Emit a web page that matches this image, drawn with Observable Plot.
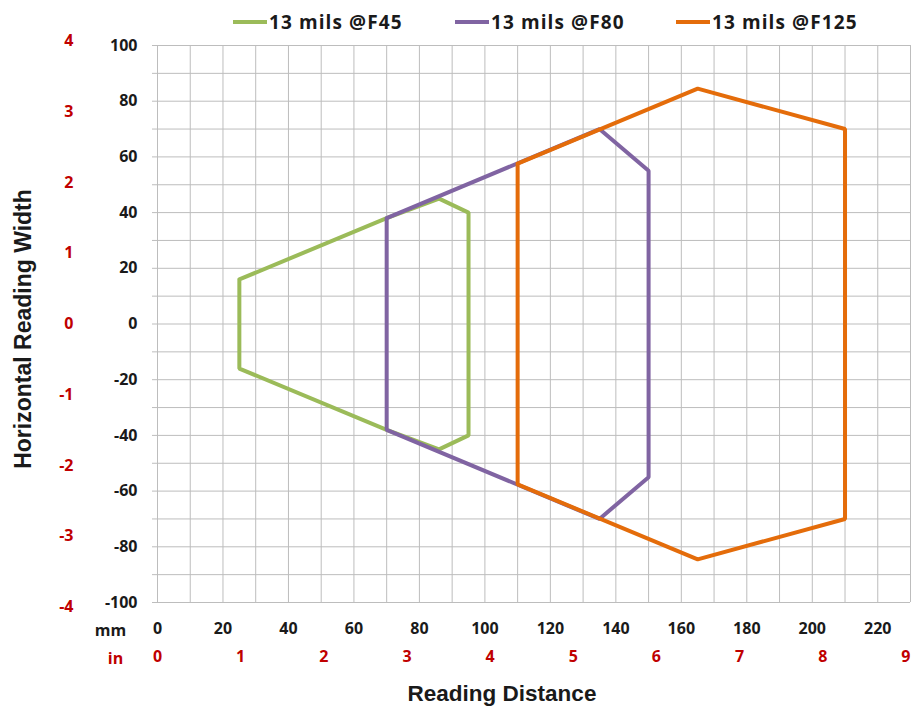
<!DOCTYPE html>
<html>
<head>
<meta charset="utf-8">
<script src="https://cdn.jsdelivr.net/npm/d3@7"></script>
<script src="https://cdn.jsdelivr.net/npm/@observablehq/plot@0.6"></script>
<style>
  body { margin: 0; background: #fff; font-family: "Open Sans", sans-serif; }
  #wrap { position: relative; width: 912px; height: 714px; }
  .leg { position: absolute; top: 9px; height: 26px; display: flex; align-items: center;
         font-weight: bold; font-size: 19px; color: #1a1a1a; white-space: nowrap; letter-spacing: 1.1px; }
  .leg span.sw { display: inline-block; width: 34px; height: 4px; margin-right: 2px; }
</style>
</head>
<body>
<div id="wrap"></div>
<script>
// Series names and colours
const seriesNames = ["13 mils @F45", "13 mils @F80", "13 mils @F125"];
const seriesColors = ["#9BBB59", "#8064A2", "#E46C0A"];

// Reading zone polygons (mm distance, mm width), closed
const f45X = [25, 70, 86, 95, 95, 86, 70, 25, 25];
const f45Y = [16, 38, 45, 40, -40, -45, -38, -16, 16];
const f80X = [70, 135, 150, 150, 135, 70, 70];
const f80Y = [38, 70, 55, -55, -70, -38, 38];
const f125X = [110, 165, 210, 210, 165, 110, 110];
const f125Y = [57.6, 84.5, 70, -70, -84.5, -57.6, 57.6];

// Tick labels
const mmXTicks = [0, 20, 40, 60, 80, 100, 120, 140, 160, 180, 200, 220];
const mmYTicks = [100, 80, 60, 40, 20, 0, -20, -40, -60, -80, -100];
const inXTicks = [0, 1, 2, 3, 4, 5, 6, 7, 8, 9];
const inYTicks = [4, 3, 2, 1, 0, -1, -2, -3, -4];
const MM_PER_IN = 25.4;

const xs = [f45X, f80X, f125X], ys = [f45Y, f80Y, f125Y];
const rows = [];
seriesNames.forEach((s, i) => xs[i].forEach((x, j) => rows.push({series: s, x, y: ys[i][j]})));

const gridX = d3.range(0, 231, 10);
const gridY = d3.range(-100, 101, 10);
const red = "#C00000";
const dark = "#1a1a1a";
const font = "'Open Sans', sans-serif";
const titleFont = "'Liberation Sans', Arial, sans-serif";

const chart = Plot.plot({
  width: 912,
  height: 714,
  marginTop: 45,
  marginBottom: 112,
  marginLeft: 157,
  marginRight: 2,
  style: {fontFamily: font, fontSize: "16px", fontWeight: "bold", color: dark, background: "#fff"},
  x: {type: "linear", domain: [0, 230]},
  y: {type: "linear", domain: [-100, 100]},
  color: {domain: seriesNames, range: seriesColors},
  marks: [
    Plot.ruleX(gridX, {stroke: "#bdbdbd", strokeWidth: 1, strokeOpacity: 1}),
    Plot.ruleY(gridY, {x1: 0, x2: 230, stroke: "#bdbdbd", strokeWidth: 1, strokeOpacity: 1}),
    // small outward ticks on the left
    Plot.axisY({ticks: gridY, tickSize: 5, tickFormat: () => "", stroke: "#bdbdbd", strokeOpacity: 1, label: null}),
    // mm y axis
    Plot.axisY({ticks: mmYTicks, tickSize: 0, tickPadding: 20, label: null, tickFormat: d => String(d),
      fontSize: 16, fontWeight: "bold", fill: dark}),
    // inch y axis (red)
    Plot.axisY(inYTicks.map(d => d * MM_PER_IN), {tickSize: 0, tickPadding: 84, label: null,
      tickFormat: d => String(Math.round(d / MM_PER_IN)), fill: red, fontSize: 16, fontWeight: "bold"}),
    // mm x axis
    Plot.axisX({ticks: mmXTicks, tickSize: 0, tickPadding: 20, label: null, tickFormat: d => String(d),
      fontSize: 16, fontWeight: "bold", fill: dark}),
    // inch x axis (red)
    Plot.axisX(inXTicks.map(d => d * MM_PER_IN), {tickSize: 0, tickPadding: 48, label: null,
      tickFormat: d => String(Math.round(d / MM_PER_IN)), fill: red, fontSize: 16, fontWeight: "bold"}),
    // unit labels
    Plot.text(["mm"], {x: 0, y: -100, dx: -47, dy: 28, text: d => d, fontSize: 16, fontWeight: "bold", fill: dark}),
    Plot.text(["in"], {x: 0, y: -100, dx: -42, dy: 56, text: d => d, fontSize: 16, fontWeight: "bold", fill: red}),
    // axis titles
    Plot.text(["Reading Distance"], {frameAnchor: "bottom", textAnchor: "middle", dy: 98, dx: -32, text: d => d,
      fontSize: 22.5, fontWeight: "bold", fill: dark, fontFamily: titleFont}),
    Plot.text(["Horizontal Reading Width"], {frameAnchor: "left", textAnchor: "middle", dx: -134, dy: 5, rotate: -90, text: d => d,
      fontSize: 23, fontWeight: "bold", fill: dark, fontFamily: titleFont}),
    // polygons
    Plot.line(rows, {x: "x", y: "y", z: "series", stroke: "series", strokeWidth: 4, strokeLinejoin: "miter", curve: "linear"})
  ]
});

const wrap = document.getElementById("wrap");
wrap.appendChild(chart);

// legend
const legLeft = [233, 455, 676];
seriesNames.forEach((s, i) => {
  const d = document.createElement("div");
  d.className = "leg";
  d.style.left = legLeft[i] + "px";
  d.innerHTML = `<span class="sw" style="background:${seriesColors[i]}"></span>${s}`;
  wrap.appendChild(d);
});
</script>
</body>
</html>
